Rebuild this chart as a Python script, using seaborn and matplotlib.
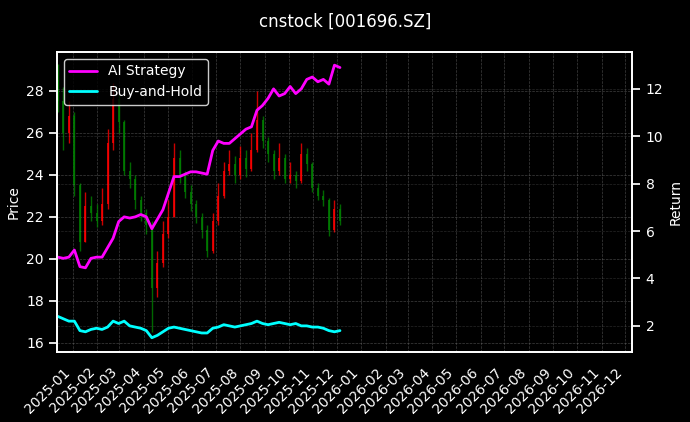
import pandas as pd
import matplotlib
matplotlib.use("Agg")
import matplotlib.pyplot as plt
import matplotlib.dates as mdates
import seaborn as sns

# weekly bars, Fridays from 2024-12-13
dates = pd.date_range("2024-12-13", periods=52, freq="W-FRI")

close = [27.5, 26.0, 26.8, 23.5, 20.8, 22.5, 22.2, 21.8, 22.6, 25.5, 27.6, 26.5,
         24.2, 23.8, 22.8, 22.2, 21.6, 18.6, 19.8, 21.2, 22.0, 24.8, 24.0, 23.2,
         22.6, 22.0, 21.4, 20.4, 21.8, 23.0, 24.2, 24.5, 24.0, 24.8, 24.3, 25.2,
         26.6, 25.6, 25.0, 24.2, 24.8, 23.8, 24.0, 23.7, 25.0, 24.5, 23.4, 23.0,
         22.8, 21.4, 22.4, 21.8]
open_ = [28.5] + close[:-1]
high = [29.3, 28.2, 27.5, 27.0, 23.6, 23.2, 23.0, 22.6, 23.4, 26.2, 28.4, 27.8,
        26.6, 24.6, 24.0, 23.0, 22.4, 21.8, 20.4, 21.8, 22.8, 25.5, 25.2, 24.2,
        23.5, 22.8, 22.2, 21.6, 22.2, 23.6, 24.6, 25.2, 24.9, 25.4, 25.2, 26.0,
        28.0, 26.8, 25.8, 25.2, 25.5, 25.0, 24.6, 24.2, 25.5, 25.3, 24.6, 23.6,
        23.3, 22.9, 22.8, 22.6]
low = [27.0, 25.2, 25.5, 23.0, 20.4, 20.8, 21.8, 21.5, 21.6, 22.4, 25.2, 26.0,
       24.0, 23.4, 22.4, 21.8, 21.2, 16.5, 18.2, 19.6, 21.0, 22.0, 23.6, 22.9,
       22.3, 21.7, 21.0, 20.1, 20.3, 21.6, 22.9, 24.0, 23.6, 23.8, 23.9, 24.2,
       25.1, 25.3, 24.6, 23.8, 24.0, 23.6, 23.6, 23.4, 23.6, 24.2, 23.2, 22.8,
       22.5, 21.1, 21.3, 21.6]

ai_strategy = [4.9, 4.85, 4.9, 5.2, 4.5, 4.45, 4.85, 4.9, 4.9, 5.3, 5.7, 6.4,
               6.6, 6.55, 6.6, 6.7, 6.6, 6.1, 6.5, 6.9, 7.6, 8.3, 8.3, 8.4,
               8.5, 8.5, 8.45, 8.4, 9.4, 9.8, 9.7, 9.7, 9.9, 10.1, 10.3, 10.4,
               11.1, 11.3, 11.6, 12.0, 11.7, 11.8, 12.1, 11.8, 12.0, 12.4, 12.5, 12.3,
               12.4, 12.2, 13.0, 12.9]
buy_hold = [2.4, 2.3, 2.2, 2.2, 1.8, 1.75, 1.85, 1.9, 1.85, 1.95, 2.2, 2.1,
            2.2, 2.0, 1.95, 1.9, 1.8, 1.5, 1.6, 1.75, 1.9, 1.95, 1.9, 1.85,
            1.8, 1.75, 1.7, 1.7, 1.9, 1.95, 2.05, 2.0, 1.95, 2.0, 2.05, 2.1,
            2.2, 2.1, 2.05, 2.1, 2.15, 2.1, 2.05, 2.1, 2.0, 2.0, 1.95, 1.95,
            1.9, 1.8, 1.75, 1.8]

df = pd.DataFrame({"date": dates, "open": open_, "high": high, "low": low, "close": close,
                   "AI Strategy": ai_strategy, "Buy-and-Hold": buy_hold})

sns.set_theme(style="dark")
plt.style.use("dark_background")
plt.rcParams["font.family"] = ["DejaVu Sans"]
plt.rcParams["font.size"] = 10
plt.rcParams["axes.labelsize"] = 10
plt.rcParams["xtick.labelsize"] = 10
plt.rcParams["ytick.labelsize"] = 10
plt.rcParams["legend.fontsize"] = 10

fig = plt.figure(figsize=(6.9, 4.22), dpi=100)
ax = fig.add_axes([0.0826, 0.166, 0.834, 0.711])
ax2 = ax.twinx()

# candles: red up, green down
colors = ["red" if c >= o else "green" for o, c in zip(df["open"], df["close"])]
ax.vlines(df["date"], df["low"], df["high"], colors=colors, linewidth=1, alpha=0.8)
bottoms = [min(o, c) for o, c in zip(df["open"], df["close"])]
heights = [max(abs(c - o), 0.05) for o, c in zip(df["open"], df["close"])]
ax.bar(df["date"], heights, bottom=bottoms, width=2.5, color=colors,
       edgecolor=colors, linewidth=0, alpha=0.8)

sns.lineplot(data=df, x="date", y="AI Strategy", ax=ax2, color="magenta", linewidth=2, label="AI Strategy")
sns.lineplot(data=df, x="date", y="Buy-and-Hold", ax=ax2, color="cyan", linewidth=2, label="Buy-and-Hold")

ax.set_ylim(15.57, 29.86)
ax2.set_ylim(0.9, 13.56)
ax.set_xlim(pd.Timestamp("2024-12-12"), pd.Timestamp("2026-12-10"))
ax.xaxis.set_major_locator(mdates.MonthLocator())
ax.xaxis.set_major_formatter(mdates.DateFormatter("%Y-%m"))
plt.setp(ax.get_xticklabels(), rotation=45, ha="right")

ax.set_ylabel("Price")
ax2.set_ylabel("Return")
ax.set_xlabel("")
ax2.set_xlabel("")
ax.grid(True, color="gray", linestyle="--", linewidth=0.5, alpha=0.5)
ax2.grid(True, color="gray", linestyle="--", linewidth=0.5, alpha=0.3)
for a in (ax, ax2):
    for s in a.spines.values():
        s.set_color("white")

leg = ax2.legend(loc="upper left", facecolor="black", edgecolor="white", framealpha=0.8)
fig.suptitle("cnstock [001696.SZ]", y=0.97, fontsize=12)
fig.savefig("out.png", dpi=100, facecolor="black")
